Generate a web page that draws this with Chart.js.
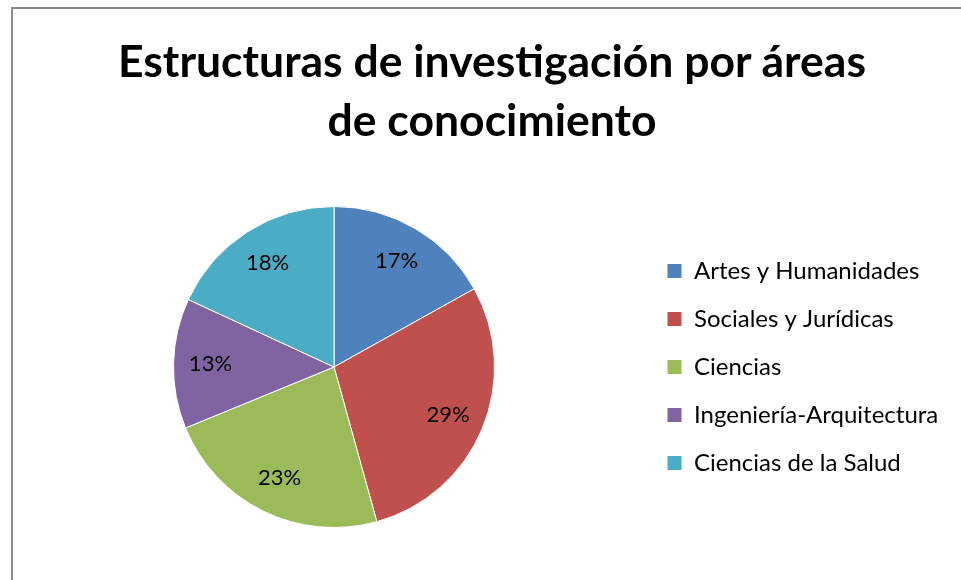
<!DOCTYPE html>
<html>
<head>
<meta charset="utf-8">
<script src="https://cdn.jsdelivr.net/npm/chart.js@4"></script>
<style>
    html, body { margin: 0; padding: 0; background: #fff; overflow: hidden; }
    #frame {
        position: absolute;
        left: 11px;
        top: 7px;
        width: 960px;
        height: 600px;
        border-left: 2px solid #8c8c8c;
        border-top: 2px solid #8c8c8c;
    }
    #chart-title {
        position: absolute;
        left: 92px;
        width: 800px;
        top: 30px;
        margin: 0;
        text-align: center;
        font-family: Lato, Carlito, Calibri, sans-serif;
        font-size: 44.5px;
        font-weight: bold;
        line-height: 59px;
        color: #000;
    }
    #area-chart { position: absolute; left: 0; top: 0; }
</style>
</head>
<body>
<div id="frame">
    <canvas id="area-chart" width="960" height="600"></canvas>
</div>
<h1 id="chart-title"></h1>
<script>
/* Estructuras de investigación - pie */

const titleLines = ["Estructuras de investigación por áreas", "de conocimiento"];
const areas = ["Artes y Humanidades", "Sociales y Jurídicas", "Ciencias", "Ingeniería-Arquitectura", "Ciencias de la Salud"];
const shares = [16.9, 28.8, 23.1, 13.1, 18.1];
const areaColors = ["#4F81BD", "#C0504D", "#9BBB59", "#8064A2", "#4BACC6"];

const FONT = "Lato, Carlito, Calibri, sans-serif";

// percent labels inside the slices
const sliceLabels = {
    id: "sliceLabels",
    afterDatasetsDraw(chart) {
        const ctx = chart.ctx;
        const meta = chart.getDatasetMeta(0);
        const total = shares.reduce((sum, v) => sum + v, 0);

        ctx.save();
        ctx.font = `22px ${FONT}`;
        ctx.fillStyle = "#000";
        ctx.textAlign = "center";
        ctx.textBaseline = "middle";
        meta.data.forEach((arc, i) => {
            const { x, y, startAngle, endAngle, outerRadius } =
                arc.getProps(["x", "y", "startAngle", "endAngle", "outerRadius"], true);
            const mid = (startAngle + endAngle) / 2;
            const r = outerRadius * 0.77;
            const pct = Math.round(shares[i] / total * 100);
            ctx.fillText(`${pct}%`, x + Math.cos(mid) * r, y + Math.sin(mid) * r);
        });
        ctx.restore();
    }
};

document.addEventListener("DOMContentLoaded", () => {
    document.getElementById("chart-title").innerHTML = titleLines.join("<br>");

    const ctx = document.getElementById("area-chart").getContext("2d");

    new Chart(ctx, {
        type: "pie",
        data: {
            labels: areas,
            datasets: [{
                data: shares,
                backgroundColor: areaColors,
                borderColor: "#fff",
                borderWidth: 1
            }]
        },
        options: {
            responsive: false,
            animation: false,
            layout: {
                padding: { left: 12, right: 30, top: 197, bottom: 81 }
            },
            plugins: {
                legend: {
                    position: "right",
                    fullSize: false,
                    maxWidth: 300,
                    labels: {
                        color: "#000",
                        boxWidth: 15,
                        boxHeight: 15,
                        padding: 24,
                        font: { family: FONT, size: 24 }
                    }
                },
                tooltip: { enabled: false }
            }
        },
        plugins: [sliceLabels]
    });
});
</script>
</body>
</html>
